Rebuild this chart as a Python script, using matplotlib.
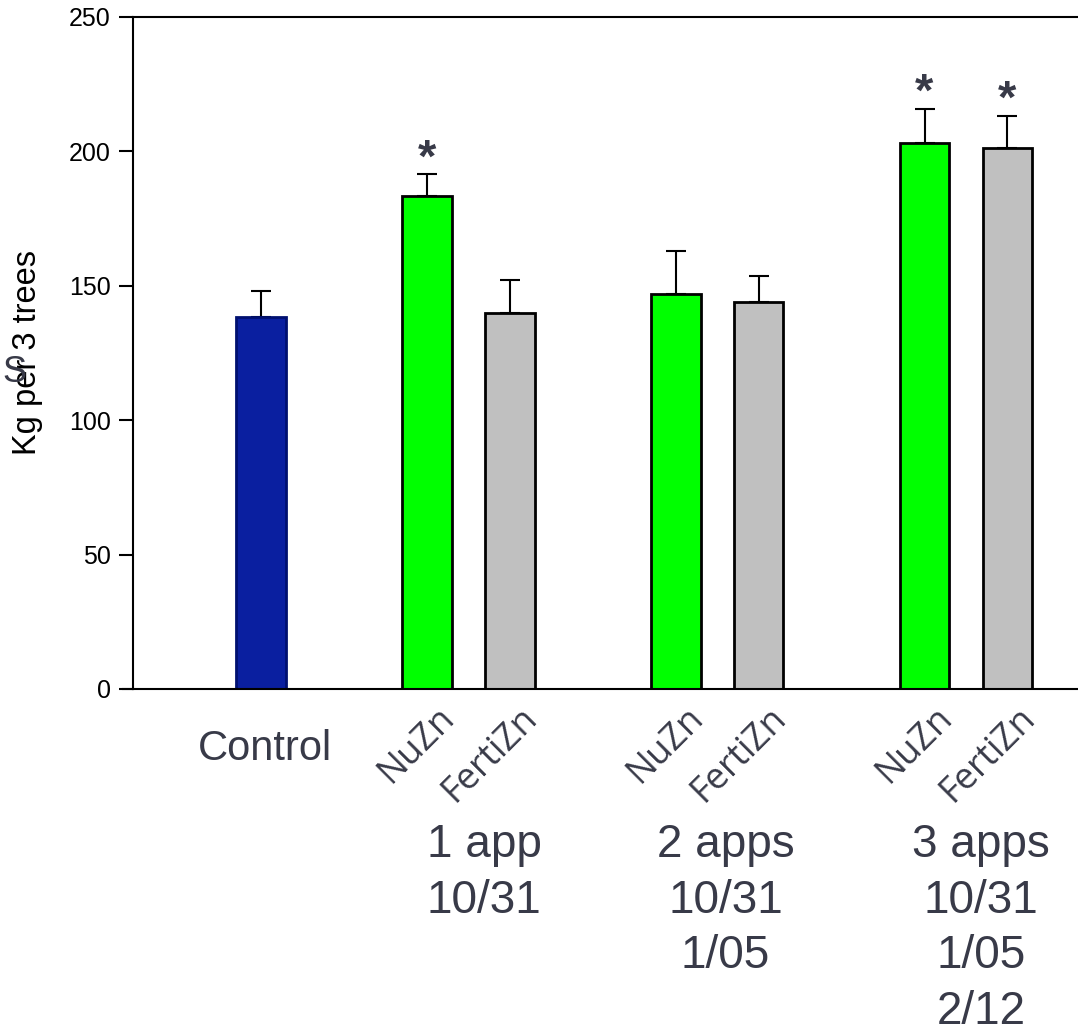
import numpy as np
import matplotlib.pyplot as plt

plt.rcParams['font.family'] = ['Liberation Sans', 'DejaVu Sans']

# data
positions = [0, 2, 3, 5, 6, 8, 9]
values = [138.5, 183.5, 140.0, 147.0, 143.8, 203.1, 201.3]
errors = [9.5, 8.0, 12.0, 16.0, 10.0, 12.7, 11.9]
colors = ['#0a1fa0', '#00ff00', '#c0c0c0', '#00ff00', '#c0c0c0', '#00ff00', '#c0c0c0']
edges = ['#001070', 'black', 'black', 'black', 'black', 'black', 'black']
signif = [False, True, False, False, False, True, True]
bar_labels = ['NuZn', 'FertiZn', 'NuZn', 'FertiZn', 'NuZn', 'FertiZn']
group_labels = ['1 app\n10/31', '2 apps\n10/31\n1/05', '3 apps\n10/31\n1/05\n2/12']
group_centers = [2.69, 5.60, 8.68]
yticks = [0, 50, 100, 150, 200, 250]

txtcol = '#383a48'

fig = plt.figure(figsize=(10.78, 10.34), dpi=100)
ax = fig.add_axes([0.1234, 0.3337, 0.8766, 0.6499])

ax.bar(positions, values, width=0.6, color=colors, edgecolor=edges, linewidth=2, zorder=2)
ax.errorbar(positions, values, yerr=[np.zeros(len(errors)), errors], fmt='none',
            ecolor='black', elinewidth=1.5, capsize=7.5, capthick=1.5, zorder=1)

for p, v, e, s in zip(positions, values, errors, signif):
    if s:
        ax.annotate('*', (p, v + e), xytext=(0, 2), textcoords='offset points',
                    ha='center', va='baseline', fontsize=34, fontweight='bold', color=txtcol)

ax.set_xlim(-1.54, 9.85)
ax.set_ylim(0, 250)
ax.set_yticks(yticks)
ax.tick_params(axis='y', direction='out', length=10, width=1.5, labelsize=18, pad=6)
ax.set_xticks([])
for sp in ['left', 'top', 'bottom']:
    ax.spines[sp].set_linewidth(1.5)
ax.spines['right'].set_visible(False)
ax.set_ylabel('Kg per 3 trees', fontsize=23.5)
ax.yaxis.set_label_coords(-0.095, 0.5)

# bottom line sticks out left like the zero tick
ax.plot([-1.66, -1.54], [0, 0], color='black', lw=1.5, clip_on=False)

tr = ax.get_xaxis_transform()
ax.text(0.05, -0.09, 'Control', ha='center', va='center', fontsize=30, color=txtcol, transform=tr)
for p, lab in zip(positions[1:], bar_labels):
    ax.text(p + 0.12, -0.016, lab, ha='right', va='top', rotation=45, rotation_mode='anchor',
            fontsize=26, color=txtcol, family=['Open Sans', 'DejaVu Sans'], transform=tr)
for c, lab in zip(group_centers, group_labels):
    ax.text(c, -0.2, lab, ha='center', va='top', fontsize=33,
            color=txtcol, linespacing=1.34, transform=tr)

fig.text(0.013, 0.64, 'S', fontsize=26, color=txtcol, ha='center', va='center')

fig.savefig('out.png', dpi=100)
